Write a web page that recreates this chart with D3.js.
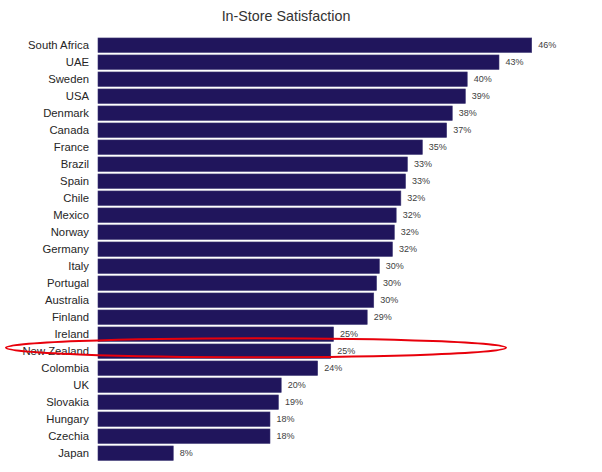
<!DOCTYPE html>
<html>
<head>
    <title>In-Store Satisfaction</title>
    <script src="https://cdn.jsdelivr.net/npm/d3@7"></script>
    <style>
        body { margin: 0; background: #fff; }
        text { font-family: Arial, "Liberation Sans", sans-serif; }
    </style>
</head>
<body>
<script>
    const countries = ['South Africa', 'UAE', 'Sweden', 'USA', 'Denmark', 'Canada', 'France', 'Brazil',
        'Spain', 'Chile', 'Mexico', 'Norway', 'Germany', 'Italy', 'Portugal', 'Australia', 'Finland',
        'Ireland', 'New Zealand', 'Colombia', 'UK', 'Slovakia', 'Hungary', 'Czechia', 'Japan'];
    // values (labels show them rounded)
    const satisfaction = [46.4, 42.9, 39.5, 39.3, 37.9, 37.3, 34.7, 33.1,
        32.9, 32.4, 31.9, 31.7, 31.5, 30.1, 29.8, 29.5, 28.8,
        25.2, 24.9, 23.5, 19.6, 19.3, 18.4, 18.4, 8.05];
    const highlight = 'New Zealand';

    const width = 602;
    const height = 472;

    const svg = d3.select('body')
        .append('svg')
        .attr('width', width)
        .attr('height', height);

    const data = countries.map((c, i) => ({ country: c, value: satisfaction[i] }));

    const x = d3.scaleLinear()
        .domain([0, 46.4])
        .range([98, 531.7]);

    const y = d3.scaleBand()
        .domain(countries)
        .range([36.7, 461.7])
        .paddingInner(0.15)
        .paddingOuter(0.075);

    svg.append('text')
        .attr('x', 286)
        .attr('y', 21)
        .attr('text-anchor', 'middle')
        .attr('font-size', '14.3px')
        .attr('fill', '#333')
        .text('In-Store Satisfaction');

    svg.selectAll('rect.bar')
        .data(data)
        .join('rect')
        .attr('class', 'bar')
        .attr('x', x(0))
        .attr('y', d => y(d.country))
        .attr('width', d => x(d.value) - x(0))
        .attr('height', y.bandwidth())
        .attr('fill', '#20155c')
        .attr('stroke', '#3b3472')
        .attr('stroke-width', 0.6);

    // country labels, drawn with the library's axis
    const yAxis = svg.append('g')
        .attr('transform', `translate(${x(0)},0)`)
        .call(d3.axisLeft(y).tickSize(0).tickPadding(9));
    yAxis.select('.domain').remove();
    yAxis.selectAll('text')
        .attr('font-family', 'Arial, "Liberation Sans", sans-serif')
        .attr('font-size', '11.3px')
        .attr('fill', '#262626');

    svg.selectAll('text.val')
        .data(data)
        .join('text')
        .attr('class', 'val')
        .attr('x', d => x(d.value) + 6.5)
        .attr('y', d => y(d.country) + y.bandwidth() / 2)
        .attr('dy', '0.35em')
        .attr('font-size', '9px')
        .attr('fill', '#404040')
        .text(d => Math.round(d.value) + '%');

    // red hand-drawn style ring round the highlighted row
    svg.append('ellipse')
        .attr('cx', 256)
        .attr('cy', y(highlight) + y.bandwidth() / 2 - 3.5)
        .attr('rx', 250)
        .attr('ry', 9.5)
        .attr('fill', 'none')
        .attr('stroke', '#e8000b')
        .attr('stroke-width', 2);
</script>
</body>
</html>
